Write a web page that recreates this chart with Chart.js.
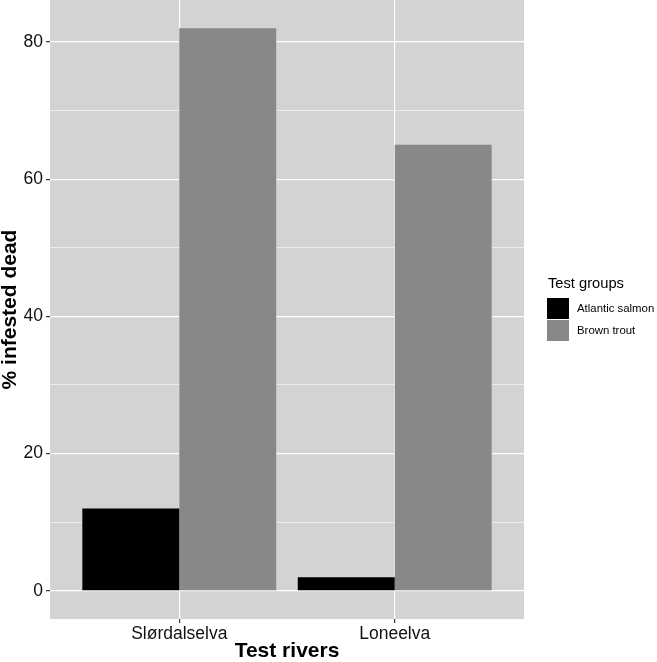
<!DOCTYPE html>
<html>
<head>
<meta charset="utf-8">
<script src="https://cdn.jsdelivr.net/npm/chart.js@4/dist/chart.umd.min.js"></script>
<style>
  html, body { margin: 0; padding: 0; background: #fff; }
  #wrap { width: 657px; height: 662px; }
</style>
</head>
<body>
<div id="wrap"><canvas id="chart"></canvas></div>
<script>
// Données
const rivers = ["Slørdalselva", "Loneelva"];
const salmon = [12, 2];
const trout = [82, 65];
const groups = ["Atlantic salmon", "Brown trout"];
const yTicks = [0, 10, 20, 30, 40, 50, 60, 70, 80];

const COLORS = { salmon: "#000000", trout: "#888888", panel: "#d3d3d3" };
const FONT = "'Liberation Sans', Arial, sans-serif";

const toPoints = vals => vals.map((v, i) => ({ x: i + 1, y: v }));

// fond gris du panneau
const panelBg = {
  id: "panelBg",
  beforeDraw(chart) {
    const { ctx, chartArea: a } = chart;
    ctx.save();
    ctx.fillStyle = COLORS.panel;
    ctx.fillRect(a.left, a.top, a.right - a.left, a.bottom - a.top);
    ctx.restore();
  },
};

// légende façon ggplot, à droite
const sideLegend = {
  id: "sideLegend",
  afterDraw(chart) {
    const ctx = chart.ctx;
    ctx.save();
    ctx.fillStyle = "#000";
    ctx.textBaseline = "middle";
    ctx.font = `14.7px ${FONT}`;
    ctx.fillText("Test groups", 548, 284);
    chart.data.datasets.forEach((ds, i) => {
      const y = 298 + i * 22;
      ctx.fillStyle = ds.backgroundColor;
      ctx.fillRect(547, y, 22, 21);
      ctx.fillStyle = "#000";
      ctx.font = `11.4px ${FONT}`;
      ctx.fillText(ds.label, 577, y + 10.5);
    });
    ctx.restore();
  },
};

const noPad = s => { s.paddingTop = 0; s.paddingBottom = 0; s.paddingLeft = 0; s.paddingRight = 0; };

new Chart(document.getElementById("chart"), {
  type: "bar",
  data: {
    datasets: [
      { label: groups[0], data: toPoints(salmon), backgroundColor: COLORS.salmon },
      { label: groups[1], data: toPoints(trout), backgroundColor: COLORS.trout },
    ],
  },
  options: {
    responsive: true,
    maintainAspectRatio: false,
    animation: false,
    layout: { padding: { top: 0, right: 133, left: 0, bottom: 0 } },
    datasets: { bar: { categoryPercentage: 0.9, barPercentage: 1 } },
    plugins: { legend: { display: false }, tooltip: { enabled: false } },
    scales: {
      x: {
        type: "linear",
        min: 0.4,
        max: 2.6,
        offset: false,
        afterBuildTicks: s => { s.ticks = rivers.map((_, i) => ({ value: i + 1 })); },
        afterFit: s => { s.height = 43; noPad(s); },
        ticks: {
          callback: v => rivers[v - 1] || "",
          color: "#111",
          font: { family: FONT, size: 17.5 },
          padding: 1,
          maxRotation: 0,
        },
        grid: { offset: false, color: "#ffffff", lineWidth: 1.2, tickColor: "#333", tickLength: 4 },
        border: { display: false },
        title: {
          display: true,
          text: "Test rivers",
          color: "#000",
          font: { family: FONT, size: 21, weight: "bold", lineHeight: 1 },
          padding: { top: 0, bottom: 0 },
        },
      },
      y: {
        min: -4.1,
        max: 86.1,
        afterBuildTicks: s => { s.ticks = yTicks.map(v => ({ value: v })); },
        afterFit: s => { s.width = 50; noPad(s); },
        ticks: {
          callback: v => (v % 20 === 0 ? String(v) : ""),
          color: "#111",
          font: { family: FONT, size: 17.5 },
          padding: 3,
        },
        grid: {
          color: "#ffffff",
          lineWidth: c => (c.tick && c.tick.value % 20 === 0 ? 1.2 : 0.6),
          tickColor: c => (c.tick && c.tick.value % 20 === 0 ? "#333" : "rgba(0,0,0,0)"),
          tickLength: 4,
        },
        border: { display: false },
        title: {
          display: true,
          text: "% infested dead",
          color: "#000",
          font: { family: FONT, size: 21, weight: "bold", lineHeight: 1 },
          padding: { top: 0, bottom: 0 },
        },
      },
    },
  },
  plugins: [panelBg, sideLegend],
});
</script>
</body>
</html>
